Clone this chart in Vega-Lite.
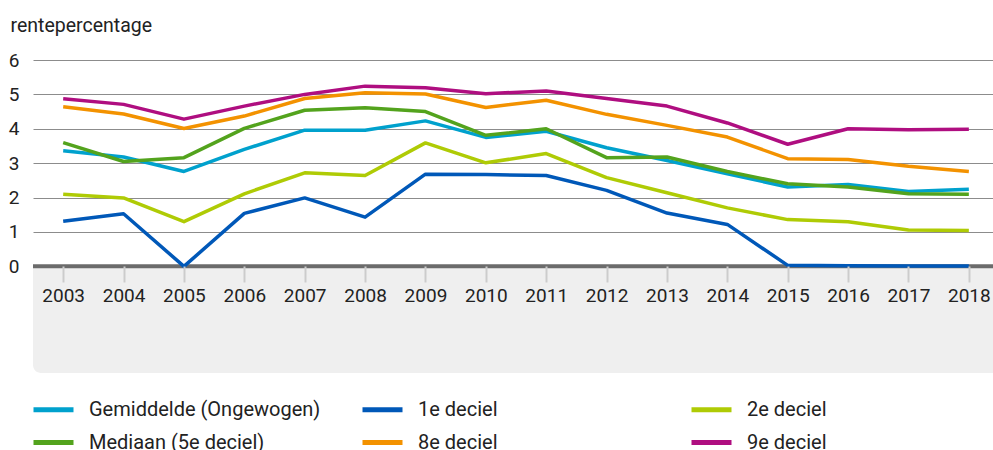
{
  "$schema": "https://vega.github.io/schema/vega-lite/v6.json",
  "autosize": {"type": "none"},
  "width": 960,
  "height": 313,
  "padding": {"left": 33, "top": 60, "right": 0, "bottom": 77},
  "datasets": {
    "paneel": [{"van": 0, "tot": -3.1}],
    "nullijn": [{"waarde": 0}],
    "rente": [
      {"jaar": 2003, "reeks": "Gemiddelde (Ongewogen)", "waarde": 3.36},
      {"jaar": 2004, "reeks": "Gemiddelde (Ongewogen)", "waarde": 3.18},
      {"jaar": 2005, "reeks": "Gemiddelde (Ongewogen)", "waarde": 2.76},
      {"jaar": 2006, "reeks": "Gemiddelde (Ongewogen)", "waarde": 3.40},
      {"jaar": 2007, "reeks": "Gemiddelde (Ongewogen)", "waarde": 3.96},
      {"jaar": 2008, "reeks": "Gemiddelde (Ongewogen)", "waarde": 3.96},
      {"jaar": 2009, "reeks": "Gemiddelde (Ongewogen)", "waarde": 4.23},
      {"jaar": 2010, "reeks": "Gemiddelde (Ongewogen)", "waarde": 3.75},
      {"jaar": 2011, "reeks": "Gemiddelde (Ongewogen)", "waarde": 3.93},
      {"jaar": 2012, "reeks": "Gemiddelde (Ongewogen)", "waarde": 3.45},
      {"jaar": 2013, "reeks": "Gemiddelde (Ongewogen)", "waarde": 3.08},
      {"jaar": 2014, "reeks": "Gemiddelde (Ongewogen)", "waarde": 2.69},
      {"jaar": 2015, "reeks": "Gemiddelde (Ongewogen)", "waarde": 2.31},
      {"jaar": 2016, "reeks": "Gemiddelde (Ongewogen)", "waarde": 2.38},
      {"jaar": 2017, "reeks": "Gemiddelde (Ongewogen)", "waarde": 2.18},
      {"jaar": 2018, "reeks": "Gemiddelde (Ongewogen)", "waarde": 2.24},
      {"jaar": 2003, "reeks": "1e deciel", "waarde": 1.31},
      {"jaar": 2004, "reeks": "1e deciel", "waarde": 1.53},
      {"jaar": 2005, "reeks": "1e deciel", "waarde": 0.0},
      {"jaar": 2006, "reeks": "1e deciel", "waarde": 1.54},
      {"jaar": 2007, "reeks": "1e deciel", "waarde": 1.99},
      {"jaar": 2008, "reeks": "1e deciel", "waarde": 1.43},
      {"jaar": 2009, "reeks": "1e deciel", "waarde": 2.68},
      {"jaar": 2010, "reeks": "1e deciel", "waarde": 2.67},
      {"jaar": 2011, "reeks": "1e deciel", "waarde": 2.64},
      {"jaar": 2012, "reeks": "1e deciel", "waarde": 2.21},
      {"jaar": 2013, "reeks": "1e deciel", "waarde": 1.55},
      {"jaar": 2014, "reeks": "1e deciel", "waarde": 1.22},
      {"jaar": 2015, "reeks": "1e deciel", "waarde": 0.03},
      {"jaar": 2016, "reeks": "1e deciel", "waarde": 0.02},
      {"jaar": 2017, "reeks": "1e deciel", "waarde": 0.01},
      {"jaar": 2018, "reeks": "1e deciel", "waarde": 0.01},
      {"jaar": 2003, "reeks": "2e deciel", "waarde": 2.10},
      {"jaar": 2004, "reeks": "2e deciel", "waarde": 1.99},
      {"jaar": 2005, "reeks": "2e deciel", "waarde": 1.30},
      {"jaar": 2006, "reeks": "2e deciel", "waarde": 2.11},
      {"jaar": 2007, "reeks": "2e deciel", "waarde": 2.72},
      {"jaar": 2008, "reeks": "2e deciel", "waarde": 2.64},
      {"jaar": 2009, "reeks": "2e deciel", "waarde": 3.59},
      {"jaar": 2010, "reeks": "2e deciel", "waarde": 3.01},
      {"jaar": 2011, "reeks": "2e deciel", "waarde": 3.28},
      {"jaar": 2012, "reeks": "2e deciel", "waarde": 2.58},
      {"jaar": 2013, "reeks": "2e deciel", "waarde": 2.14},
      {"jaar": 2014, "reeks": "2e deciel", "waarde": 1.70},
      {"jaar": 2015, "reeks": "2e deciel", "waarde": 1.36},
      {"jaar": 2016, "reeks": "2e deciel", "waarde": 1.30},
      {"jaar": 2017, "reeks": "2e deciel", "waarde": 1.06},
      {"jaar": 2018, "reeks": "2e deciel", "waarde": 1.04},
      {"jaar": 2003, "reeks": "Mediaan (5e deciel)", "waarde": 3.60},
      {"jaar": 2004, "reeks": "Mediaan (5e deciel)", "waarde": 3.05},
      {"jaar": 2005, "reeks": "Mediaan (5e deciel)", "waarde": 3.16},
      {"jaar": 2006, "reeks": "Mediaan (5e deciel)", "waarde": 4.01},
      {"jaar": 2007, "reeks": "Mediaan (5e deciel)", "waarde": 4.54},
      {"jaar": 2008, "reeks": "Mediaan (5e deciel)", "waarde": 4.61},
      {"jaar": 2009, "reeks": "Mediaan (5e deciel)", "waarde": 4.50},
      {"jaar": 2010, "reeks": "Mediaan (5e deciel)", "waarde": 3.81},
      {"jaar": 2011, "reeks": "Mediaan (5e deciel)", "waarde": 4.00},
      {"jaar": 2012, "reeks": "Mediaan (5e deciel)", "waarde": 3.16},
      {"jaar": 2013, "reeks": "Mediaan (5e deciel)", "waarde": 3.18},
      {"jaar": 2014, "reeks": "Mediaan (5e deciel)", "waarde": 2.76},
      {"jaar": 2015, "reeks": "Mediaan (5e deciel)", "waarde": 2.40},
      {"jaar": 2016, "reeks": "Mediaan (5e deciel)", "waarde": 2.31},
      {"jaar": 2017, "reeks": "Mediaan (5e deciel)", "waarde": 2.11},
      {"jaar": 2018, "reeks": "Mediaan (5e deciel)", "waarde": 2.10},
      {"jaar": 2003, "reeks": "8e deciel", "waarde": 4.64},
      {"jaar": 2004, "reeks": "8e deciel", "waarde": 4.43},
      {"jaar": 2005, "reeks": "8e deciel", "waarde": 4.01},
      {"jaar": 2006, "reeks": "8e deciel", "waarde": 4.37},
      {"jaar": 2007, "reeks": "8e deciel", "waarde": 4.88},
      {"jaar": 2008, "reeks": "8e deciel", "waarde": 5.05},
      {"jaar": 2009, "reeks": "8e deciel", "waarde": 5.01},
      {"jaar": 2010, "reeks": "8e deciel", "waarde": 4.62},
      {"jaar": 2011, "reeks": "8e deciel", "waarde": 4.83},
      {"jaar": 2012, "reeks": "8e deciel", "waarde": 4.42},
      {"jaar": 2013, "reeks": "8e deciel", "waarde": 4.10},
      {"jaar": 2014, "reeks": "8e deciel", "waarde": 3.76},
      {"jaar": 2015, "reeks": "8e deciel", "waarde": 3.13},
      {"jaar": 2016, "reeks": "8e deciel", "waarde": 3.11},
      {"jaar": 2017, "reeks": "8e deciel", "waarde": 2.91},
      {"jaar": 2018, "reeks": "8e deciel", "waarde": 2.76},
      {"jaar": 2003, "reeks": "9e deciel", "waarde": 4.87},
      {"jaar": 2004, "reeks": "9e deciel", "waarde": 4.71},
      {"jaar": 2005, "reeks": "9e deciel", "waarde": 4.28},
      {"jaar": 2006, "reeks": "9e deciel", "waarde": 4.66},
      {"jaar": 2007, "reeks": "9e deciel", "waarde": 5.00},
      {"jaar": 2008, "reeks": "9e deciel", "waarde": 5.24},
      {"jaar": 2009, "reeks": "9e deciel", "waarde": 5.19},
      {"jaar": 2010, "reeks": "9e deciel", "waarde": 5.02},
      {"jaar": 2011, "reeks": "9e deciel", "waarde": 5.10},
      {"jaar": 2012, "reeks": "9e deciel", "waarde": 4.88},
      {"jaar": 2013, "reeks": "9e deciel", "waarde": 4.66},
      {"jaar": 2014, "reeks": "9e deciel", "waarde": 4.17},
      {"jaar": 2015, "reeks": "9e deciel", "waarde": 3.55},
      {"jaar": 2016, "reeks": "9e deciel", "waarde": 4.00},
      {"jaar": 2017, "reeks": "9e deciel", "waarde": 3.97},
      {"jaar": 2018, "reeks": "9e deciel", "waarde": 3.99}
    ]
  },
  "layer": [
    {
      "data": {"name": "paneel"},
      "mark": {"type": "rect", "color": "#efefef", "cornerRadiusBottomLeft": 8},
      "encoding": {
        "y": {"field": "van", "type": "quantitative", "scale": {"domain": [-3.1, 6], "nice": false, "zero": false}},
        "y2": {"field": "tot"}
      }
    },
    {
      "data": {"name": "nullijn"},
      "mark": {"type": "rule", "color": "#6b6b6b", "strokeWidth": 4},
      "encoding": {
        "y": {"field": "waarde", "type": "quantitative"}
      }
    },
    {
      "data": {"name": "rente"},
      "mark": {"type": "line", "strokeWidth": 3.5, "strokeJoin": "round", "strokeCap": "butt"},
      "encoding": {
        "x": {
          "field": "jaar",
          "type": "quantitative",
          "scale": {"domain": [2002.5, 2018.4], "nice": false, "zero": false},
          "axis": {
            "orient": "bottom",
            "offset": -107,
            "zindex": 1,
            "title": null,
            "domain": false,
            "grid": false,
            "values": [2003, 2004, 2005, 2006, 2007, 2008, 2009, 2010, 2011, 2012, 2013, 2014, 2015, 2016, 2017, 2018],
            "format": "d",
            "tickSize": 16,
            "tickWidth": 2,
            "tickColor": "#cccccc",
            "labelPadding": 4,
            "labelFontSize": 19,
            "labelColor": "#222222"
          }
        },
        "y": {
          "field": "waarde",
          "type": "quantitative",
          "axis": {
            "title": "rentepercentage",
            "titleAngle": 0,
            "titleAlign": "left",
            "titleBaseline": "middle",
            "titleX": -23,
            "titleY": -35,
            "titleFontSize": 19.5,
            "titleFontWeight": "normal",
            "titleColor": "#222222",
            "values": [0, 1, 2, 3, 4, 5, 6],
            "domain": false,
            "ticks": false,
            "grid": true,
            "gridColor": "#8c8c8c",
            "gridWidth": 1,
            "labelPadding": 14,
            "labelFontSize": 19,
            "labelColor": "#222222"
          }
        },
        "color": {
          "field": "reeks",
          "type": "nominal",
          "scale": {
            "domain": ["Gemiddelde (Ongewogen)", "1e deciel", "2e deciel", "Mediaan (5e deciel)", "8e deciel", "9e deciel"],
            "range": ["#00a1cd", "#0058b8", "#afcb05", "#53a31d", "#f39200", "#af0e80"]
          },
          "legend": {
            "title": null,
            "orient": "none",
            "legendX": -2,
            "legendY": 327,
            "padding": 0,
            "direction": "horizontal",
            "columns": 3,
            "gridAlign": "all",
            "columnPadding": 31,
            "rowPadding": -5,
            "symbolType": "stroke",
            "symbolSize": 1600,
            "symbolStrokeWidth": 5,
            "labelOffset": 13,
            "labelFontSize": 20,
            "labelColor": "#222222",
            "labelLimit": 400
          }
        }
      }
    }
  ],
  "config": {
    "font": "Roboto",
    "view": {"stroke": null}
  }
}
